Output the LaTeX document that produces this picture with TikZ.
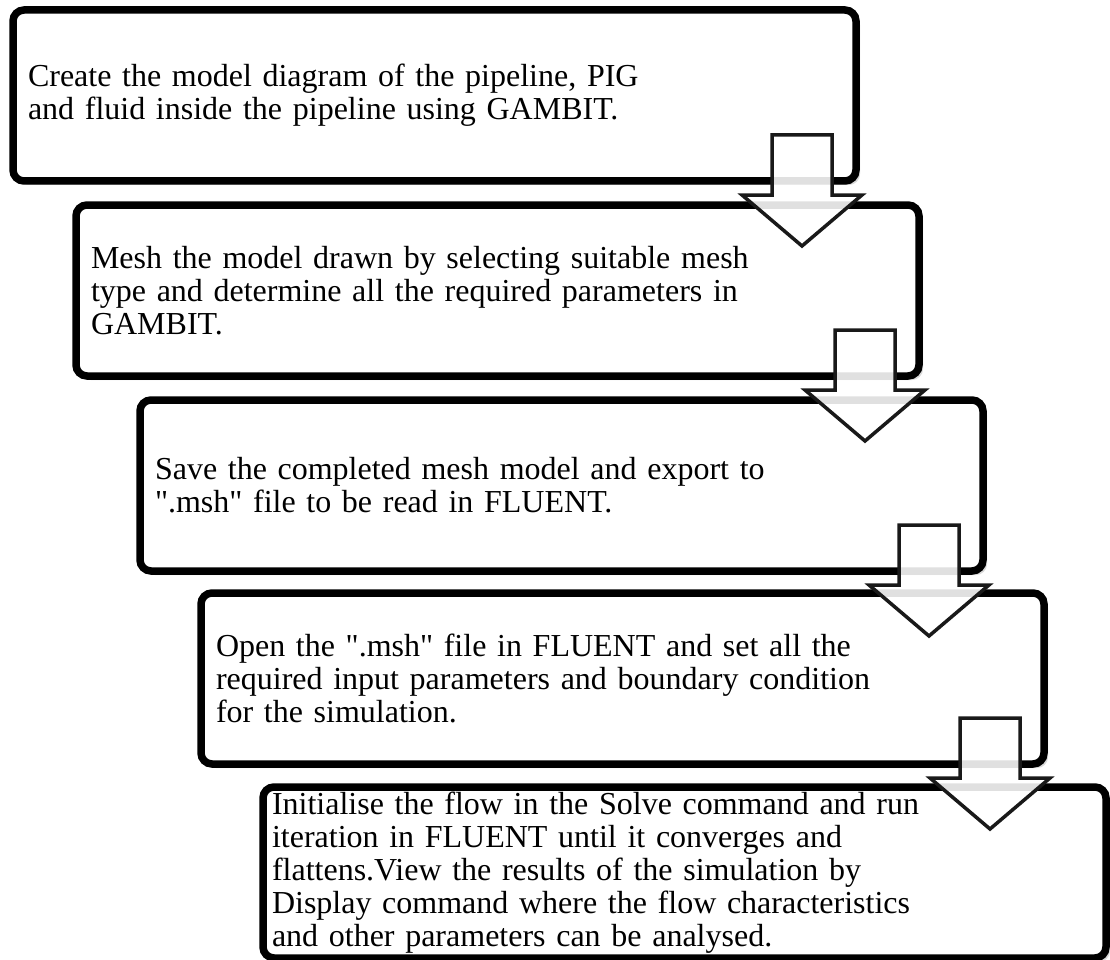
\documentclass[tikz,border=0pt]{standalone}
\usepackage{fontspec}
\setmainfont{Liberation Serif}[Ligatures=TeXOff]
\usetikzlibrary{shadows}

\begin{document}
\begin{tikzpicture}[x=1pt,y=-1pt,
  stepbox/.style={draw,line width=7.5pt,rounded corners=11pt,fill=white,
    drop shadow={shadow xshift=4pt,shadow yshift=-4pt,opacity=0.3},
    anchor=north west,outer sep=0pt,minimum width=843pt,minimum height=171pt,
    inner xsep=15pt,text width=813pt,align=left,
    font=\fontsize{32}{33}\selectfont},
  blockarrow/.style={draw=black!90,line width=3.5pt,line join=miter,
    fill=white,fill opacity=0.88}]
  \useasboundingbox (0,0) rectangle (1110,960);
  \node[stepbox] (b1) at (13,10)
    {Create the model diagram of the pipeline, PIG\\and fluid inside the pipeline using GAMBIT.};
  \node[stepbox] (b2) at (76,205)
    {Mesh the model drawn by selecting suitable mesh\\type and determine all the required parameters in\\GAMBIT.};
  \node[stepbox] (b3) at (140,400)
    {Save the completed mesh model and export to\\".msh" file to be read in FLUENT.};
  \node[stepbox] (b4) at (201,593)
    {Open the ".msh" file in FLUENT and set all the\\required input parameters and boundary condition\\for the simulation.};
  \node[stepbox,inner xsep=9pt,text width=825pt] (b5) at (263,787)
    {Initialise the flow in the Solve command and run\\iteration in FLUENT until it converges and\\flattens.View the results of the simulation by\\Display command where the flow characteristics\\and other parameters can be analysed.};
  \foreach \i in {1,...,4}
    \draw[blockarrow] ([shift={(-84,-46)}]b\i.south east) -- ++(60,0) -- ++(0,60)
      -- ++(30,0) -- ++(-60,51) -- ++(-60,-51) -- ++(30,0) -- cycle;
\end{tikzpicture}
\end{document}
